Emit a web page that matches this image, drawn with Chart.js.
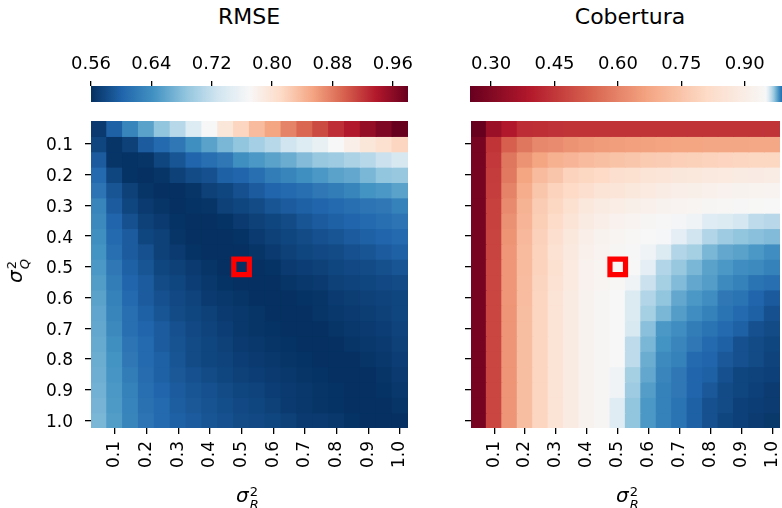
<!DOCTYPE html>
<html><head><meta charset="utf-8">
<script src="https://cdn.jsdelivr.net/npm/chart.js@4.4.1/dist/chart.umd.min.js"></script>
<style>
html,body{margin:0;padding:0;background:#fff;}
body{width:782px;height:508px;overflow:hidden;position:relative;font-family:'DejaVu Sans',sans-serif;color:#000;}
canvas{position:absolute;}
.t{position:absolute;white-space:nowrap;line-height:22px;font-size:22px;text-align:center;}
.lab{position:absolute;white-space:nowrap;font-size:20px;line-height:20px;}
.lab i{font-style:italic;}
.ss{display:inline-block;vertical-align:-7px;font-size:13px;line-height:13px;margin-left:1px;}
.ss span{display:block;}
</style>
</head><body>
<div class="t" style="left:149px;top:6px;width:200px;">RMSE</div>
<div class="t" style="left:530px;top:6px;width:200px;">Cobertura</div>
<canvas id="cb1" width="430" height="70" style="left:0;top:40px"></canvas>
<canvas id="cb2" width="360" height="70" style="left:440px;top:40px"></canvas>
<canvas id="h1" width="430" height="508" style="left:0;top:0"></canvas>
<canvas id="h2" width="360" height="508" style="left:440px;top:0"></canvas>
<div class="lab" style="left:236px;top:485px;"><i>σ</i><span class="ss"><span>2</span><span><i>R</i></span></span></div>
<div class="lab" style="left:616px;top:485px;"><i>σ</i><span class="ss"><span>2</span><span><i>R</i></span></span></div>
<div class="lab" style="left:6px;top:258px;transform:rotate(-90deg);transform-origin:50% 50%;"><i>σ</i><span class="ss"><span>2</span><span><i>Q</i></span></span></div>
<script>
// ---------------- data ----------------
const sigmaR = [0.05,0.10,0.15,0.20,0.25,0.30,0.35,0.40,0.45,0.50,0.55,0.60,0.65,0.70,0.75,0.80,0.85,0.90,0.95,1.00];
const sigmaQ = [0.05,0.10,0.15,0.20,0.25,0.30,0.35,0.40,0.45,0.50,0.55,0.60,0.65,0.70,0.75,0.80,0.85,0.90,0.95,1.00];
const axisTickLabels = ['0.1','0.2','0.3','0.4','0.5','0.6','0.7','0.8','0.9','1.0'];
const rmseBarTicks = [0.56,0.64,0.72,0.80,0.88,0.96];
const covBarTicks = [0.30,0.45,0.60,0.75,0.90];
const marked = {sigmaR:0.50, sigmaQ:0.50};

// RMSE, one row per sigmaQ (top to bottom), one column per sigmaR
const rmse = [
[0.568,0.598,0.631,0.657,0.686,0.711,0.741,0.770,0.795,0.816,0.837,0.854,0.875,0.892,0.909,0.925,0.938,0.955,0.967,0.980],
[0.577,0.564,0.573,0.594,0.606,0.619,0.640,0.657,0.673,0.686,0.699,0.711,0.728,0.741,0.753,0.770,0.783,0.795,0.804,0.816],
[0.594,0.564,0.562,0.564,0.577,0.589,0.602,0.610,0.619,0.640,0.648,0.657,0.665,0.678,0.690,0.694,0.703,0.711,0.724,0.736],
[0.606,0.577,0.562,0.560,0.564,0.573,0.581,0.585,0.598,0.602,0.610,0.623,0.631,0.640,0.648,0.657,0.661,0.673,0.686,0.690],
[0.615,0.589,0.573,0.564,0.560,0.560,0.564,0.573,0.577,0.585,0.594,0.602,0.606,0.610,0.619,0.623,0.631,0.644,0.648,0.657],
[0.631,0.594,0.577,0.568,0.564,0.560,0.562,0.564,0.573,0.577,0.581,0.589,0.594,0.598,0.602,0.606,0.610,0.615,0.619,0.627],
[0.635,0.602,0.585,0.573,0.568,0.562,0.560,0.560,0.562,0.568,0.573,0.577,0.581,0.589,0.594,0.598,0.602,0.606,0.610,0.615],
[0.640,0.606,0.594,0.577,0.573,0.564,0.560,0.560,0.560,0.562,0.568,0.573,0.577,0.581,0.585,0.589,0.594,0.598,0.602,0.606],
[0.644,0.610,0.594,0.585,0.573,0.568,0.562,0.560,0.560,0.560,0.564,0.568,0.573,0.577,0.579,0.581,0.585,0.589,0.594,0.598],
[0.648,0.619,0.598,0.589,0.577,0.573,0.568,0.564,0.560,0.560,0.560,0.562,0.568,0.571,0.573,0.577,0.579,0.581,0.584,0.589],
[0.652,0.623,0.602,0.594,0.581,0.577,0.571,0.566,0.562,0.560,0.560,0.560,0.564,0.566,0.568,0.573,0.575,0.577,0.579,0.581],
[0.657,0.627,0.606,0.594,0.585,0.579,0.575,0.568,0.566,0.564,0.560,0.560,0.560,0.562,0.564,0.568,0.570,0.573,0.575,0.577],
[0.659,0.631,0.610,0.598,0.589,0.581,0.577,0.573,0.568,0.566,0.564,0.560,0.560,0.560,0.564,0.566,0.568,0.570,0.573,0.577],
[0.661,0.635,0.610,0.602,0.594,0.585,0.579,0.575,0.571,0.566,0.564,0.562,0.560,0.560,0.560,0.564,0.566,0.568,0.571,0.575],
[0.663,0.640,0.615,0.606,0.594,0.587,0.581,0.577,0.573,0.568,0.566,0.564,0.562,0.560,0.560,0.560,0.564,0.566,0.568,0.573],
[0.665,0.644,0.619,0.606,0.598,0.589,0.581,0.577,0.575,0.571,0.568,0.566,0.564,0.562,0.560,0.560,0.560,0.564,0.566,0.571],
[0.667,0.646,0.623,0.608,0.598,0.591,0.585,0.581,0.577,0.573,0.571,0.568,0.566,0.564,0.562,0.560,0.560,0.560,0.564,0.568],
[0.669,0.648,0.627,0.610,0.602,0.594,0.589,0.585,0.581,0.577,0.575,0.571,0.568,0.566,0.564,0.562,0.560,0.560,0.562,0.566],
[0.671,0.650,0.629,0.612,0.606,0.596,0.591,0.587,0.583,0.579,0.577,0.573,0.568,0.566,0.564,0.562,0.560,0.560,0.560,0.564],
[0.673,0.652,0.631,0.615,0.606,0.598,0.594,0.589,0.585,0.581,0.579,0.577,0.573,0.568,0.568,0.566,0.562,0.560,0.560,0.560]
];

// Cobertura (coverage), same layout
const cobertura = [
[0.250,0.345,0.390,0.430,0.432,0.440,0.444,0.445,0.445,0.445,0.445,0.445,0.445,0.445,0.445,0.445,0.445,0.445,0.445,0.445],
[0.280,0.445,0.530,0.574,0.609,0.617,0.633,0.644,0.652,0.656,0.660,0.664,0.668,0.670,0.672,0.674,0.675,0.676,0.677,0.678],
[0.280,0.455,0.574,0.633,0.670,0.700,0.710,0.727,0.737,0.748,0.755,0.765,0.772,0.779,0.784,0.789,0.793,0.796,0.799,0.802],
[0.280,0.460,0.580,0.670,0.727,0.752,0.789,0.800,0.810,0.830,0.840,0.850,0.860,0.870,0.874,0.880,0.884,0.890,0.892,0.894],
[0.280,0.462,0.600,0.690,0.755,0.790,0.810,0.830,0.850,0.860,0.874,0.884,0.894,0.905,0.910,0.915,0.920,0.925,0.928,0.930],
[0.280,0.470,0.615,0.705,0.770,0.800,0.840,0.874,0.890,0.900,0.910,0.915,0.925,0.930,0.935,0.940,0.945,0.947,0.948,0.950],
[0.280,0.472,0.630,0.710,0.775,0.815,0.855,0.890,0.905,0.920,0.930,0.940,0.947,0.951,0.952,0.956,0.957,0.959,0.963,0.964],
[0.280,0.475,0.635,0.720,0.785,0.830,0.875,0.905,0.925,0.935,0.945,0.950,0.9505,0.955,0.960,0.965,0.968,0.970,0.971,0.972],
[0.280,0.476,0.640,0.727,0.790,0.845,0.880,0.915,0.930,0.940,0.947,0.952,0.957,0.965,0.967,0.973,0.976,0.977,0.979,0.981],
[0.280,0.480,0.640,0.727,0.790,0.840,0.884,0.920,0.935,0.945,0.950,0.955,0.965,0.969,0.973,0.977,0.979,0.981,0.982,0.984],
[0.280,0.480,0.640,0.730,0.795,0.845,0.884,0.920,0.935,0.945,0.952,0.961,0.967,0.972,0.976,0.978,0.982,0.984,0.987,0.988],
[0.280,0.480,0.640,0.730,0.797,0.850,0.890,0.925,0.940,0.949,0.957,0.965,0.970,0.976,0.979,0.981,0.986,0.987,0.990,0.992],
[0.280,0.480,0.638,0.735,0.797,0.850,0.890,0.925,0.940,0.950,0.957,0.967,0.973,0.978,0.981,0.984,0.987,0.989,0.991,0.994],
[0.280,0.480,0.638,0.735,0.797,0.850,0.890,0.925,0.940,0.950,0.958,0.971,0.979,0.981,0.985,0.987,0.989,0.991,0.994,0.995],
[0.280,0.480,0.638,0.735,0.797,0.850,0.890,0.925,0.940,0.950,0.963,0.973,0.980,0.983,0.986,0.989,0.991,0.994,0.995,0.996],
[0.280,0.480,0.638,0.735,0.797,0.850,0.890,0.925,0.940,0.950,0.963,0.975,0.982,0.984,0.989,0.990,0.9925,0.994,0.995,0.9965],
[0.280,0.480,0.638,0.735,0.797,0.850,0.890,0.925,0.940,0.952,0.967,0.976,0.983,0.986,0.990,0.991,0.994,0.996,0.9964,0.997],
[0.280,0.480,0.638,0.735,0.797,0.850,0.890,0.925,0.940,0.952,0.968,0.978,0.984,0.986,0.990,0.9925,0.995,0.996,0.997,0.998],
[0.280,0.480,0.638,0.735,0.797,0.850,0.890,0.925,0.940,0.956,0.970,0.979,0.984,0.987,0.991,0.994,0.995,0.997,0.9975,0.998],
[0.280,0.480,0.638,0.735,0.797,0.850,0.890,0.925,0.940,0.956,0.970,0.979,0.984,0.987,0.991,0.994,0.996,0.997,0.998,0.9986]
];

// ---------------- colour scales ----------------
const RMSE_MIN = 0.56, RMSE_MAX = 0.98;
const COV_MIN = 0.25, COV_CENTER = 0.95, COV_MAX = 1.0;
const RDBU = ['#67001f','#b2182b','#d6604d','#f4a582','#fddbc7','#f7f7f7','#d1e5f0','#92c5de','#4393c3','#2166ac','#053061']
  .map(h => [parseInt(h.slice(1,3),16), parseInt(h.slice(3,5),16), parseInt(h.slice(5,7),16)]);
function rdbu(t){
  t = Math.max(0, Math.min(1, t));
  const p = t*10, i = Math.min(9, Math.floor(p)), f = p - i, a = RDBU[i], b = RDBU[i+1];
  return 'rgb(' + [0,1,2].map(k => Math.round(a[k] + (b[k]-a[k])*f)).join(',') + ')';
}
const rmseColor = v => rdbu(1 - (v - RMSE_MIN)/(RMSE_MAX - RMSE_MIN));
const covColor = v => rdbu(v < COV_CENTER ? 0.5*(v - COV_MIN)/(COV_CENTER - COV_MIN)
                                          : 0.5 + 0.5*(v - COV_CENTER)/(COV_MAX - COV_CENTER));

// ---------------- charts ----------------
Chart.defaults.font.family = "'DejaVu Sans'";
Chart.defaults.color = '#000';
const TICK_FONT = {size: 17};

function heatmap(canvasId, matrix, colorFn, showYLabels, yWidth, padRight){
  const datasets = matrix.map(row => ({
    type: 'bar',
    data: row.map(() => 1),
    backgroundColor: row.map(colorFn),
    borderWidth: 0,
    barPercentage: 1,
    categoryPercentage: 1,
    inflateAmount: 0.6,
    stack: 'cells'
  }));
  const markRow = sigmaQ.indexOf(marked.sigmaQ) + 0.5;
  datasets.push({
    type: 'line',
    data: sigmaR.map(r => r === marked.sigmaR ? markRow : null),
    showLine: false,
    stack: 'marker',
    order: -1,
    pointStyle: 'rect',
    pointRadius: 11,
    pointBorderWidth: 5.2,
    pointBorderColor: '#ff0000',
    pointBackgroundColor: 'rgba(0,0,0,0)'
  });
  return new Chart(document.getElementById(canvasId), {
    type: 'bar',
    data: {labels: sigmaR.map(String), datasets},
    options: {
      responsive: false, animation: false, events: [], devicePixelRatio: 1,
      layout: {padding: {left: 0, right: padRight, top: 121, bottom: 0}},
      plugins: {legend: {display: false}, tooltip: {enabled: false}},
      scales: {
        x: {
          stacked: true, offset: true,
          grid: {offset: false, drawOnChartArea: false, drawTicks: true, tickLength: 6, color: '#000', lineWidth: 1.3},
          border: {display: false},
          afterBuildTicks: s => { s.ticks = s.ticks.filter(t => axisTickLabels.includes(sigmaR[t.value].toFixed(1)) && (Math.round(sigmaR[t.value]*100) % 10 === 0)); },
          ticks: {autoSkip: false, maxRotation: 90, minRotation: 90, padding: 7, font: TICK_FONT,
                  callback: (v) => sigmaR[v].toFixed(1)},
          afterFit: s => { s.height = 80; }
        },
        y: {
          type: 'linear', stacked: true, reverse: true, min: 0, max: sigmaQ.length,
          grid: {drawOnChartArea: false, drawTicks: true, tickLength: 6, color: '#000', lineWidth: 1.3},
          border: {display: false},
          afterBuildTicks: s => { s.ticks = axisTickLabels.map(l => ({value: sigmaQ.findIndex(q => q.toFixed(1) === l && Math.round(q*100) % 10 === 0) + 0.5})); },
          ticks: {padding: 12, labelOffset: 2, font: TICK_FONT,
                  callback: (v, i) => showYLabels ? axisTickLabels[i] : ''},
          afterFit: s => { s.width = yWidth; }
        }
      }
    }
  });
}

function colorbar(canvasId, vmin, vmax, ticks, colorFn, padLeft, padRight){
  return new Chart(document.getElementById(canvasId), {
    type: 'bar',
    data: {labels: [''], datasets: [{
      data: [[vmin, vmax]],
      borderWidth: 0, barPercentage: 1, categoryPercentage: 1, inflateAmount: 0,
      backgroundColor: (ctx) => {
        const c = ctx.chart, xs = c.scales.x;
        if (!c.chartArea || !xs) return '#fff';
        const x0 = xs.getPixelForValue(vmin), x1 = xs.getPixelForValue(vmax);
        const g = c.ctx.createLinearGradient(x0, 0, x1, 0);
        const N = 120;
        for (let k = 0; k <= N; k++) g.addColorStop(k/N, colorFn(vmin + (vmax - vmin)*k/N));
        return g;
      }
    }]},
    options: {
      indexAxis: 'y', responsive: false, animation: false, events: [], devicePixelRatio: 1,
      layout: {padding: {left: padLeft, right: padRight, top: 0, bottom: 8}},
      plugins: {legend: {display: false}, tooltip: {enabled: false}},
      scales: {
        x: {
          type: 'linear', position: 'top', min: vmin, max: vmax,
          grid: {drawOnChartArea: false, drawTicks: true, tickLength: 5, color: '#000', lineWidth: 1.3},
          border: {display: false},
          afterBuildTicks: s => { s.ticks = ticks.map(v => ({value: v})); },
          ticks: {padding: 6, font: {size: 18}, callback: v => v.toFixed(2)},
          afterFit: s => { s.height = 46; }
        },
        y: {display: false}
      }
    }
  });
}

colorbar('cb1', RMSE_MIN, RMSE_MAX, rmseBarTicks, rmseColor, 91, 22);
colorbar('cb2', COV_MIN, COV_MAX, covBarTicks, covColor, 30, 13);
heatmap('h1', rmse, rmseColor, true, 91, 22);
heatmap('h2', cobertura, covColor, false, 31, 12);
</script>
</body></html>
